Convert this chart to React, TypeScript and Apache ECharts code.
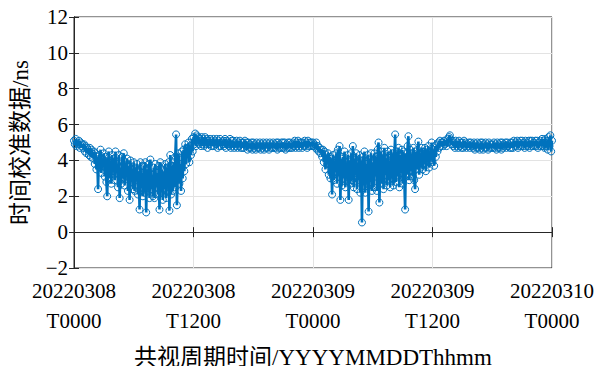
import React, { useEffect, useRef } from "react";
import * as echarts from "echarts";

// sampling: one value every 5 minutes, 20220308T0000 .. 20220310T0000 (hours 0..48)
const stepHours = 5 / 60;

const seg1: number[] = [
  // h0-h11
  5.1, 4.9, 5.2, 4.8, 5.0, 4.9, 5.1, 4.7, 5.0, 4.8, 4.9, 4.7,
  4.9, 4.5, 4.8, 4.4, 4.7, 4.6, 4.3, 4.7, 4.2, 4.6, 4.4, 4.1,
  4.5, 3.8, 4.4, 3.5, 4.2, 2.4, 4.3, 3.6, 4.6, 3.3, 4.1, 3.7,
  4.4, 3.1, 4.2, 2.8, 2.0, 3.9, 4.5, 3.0, 4.0, 2.7, 4.3, 3.4,
  4.1, 2.9, 4.5, 3.3, 3.8, 2.5, 4.3, 1.9, 3.6, 2.7, 4.2, 3.0,
  4.4, 2.6, 3.9, 3.1, 4.1, 2.3, 3.7, 1.8, 4.0, 2.8, 3.5, 2.4,
  3.9, 2.3, 3.6, 2.9, 3.8, 2.1, 3.4, 1.26, 3.9, 2.5, 3.3, 2.0,
  3.7, 2.2, 3.9, 1.1, 3.5, 2.6, 3.8, 1.9, 4.05, 2.4, 3.2, 2.0,
  3.6, 1.9, 3.8, 2.5, 3.3, 2.1, 3.7, 1.26, 3.9, 2.2, 3.5, 1.8,
  3.4, 2.4, 3.8, 1.9, 3.6, 2.6, 3.9, 1.2, 4.3, 2.1, 3.7, 2.3,
  3.9, 2.5, 4.2, 5.45, 1.5, 3.1, 4.4, 2.7, 3.8, 2.3, 4.5, 3.0,
  4.6, 3.4, 4.9, 3.8, 4.7, 4.1, 5.0, 3.9, 4.8, 4.3, 5.2, 4.5,
];
const seg2: number[] = [
  // h12-h23
  5.3, 4.9, 5.5, 4.8, 5.4, 5.0, 5.3, 4.9, 5.2, 4.8, 5.3, 4.9,
  5.2, 4.8, 5.3, 4.9, 5.2, 4.7, 5.1, 4.9, 5.2, 4.8, 5.1, 4.8,
  5.2, 4.8, 5.1, 4.9, 5.2, 4.7, 5.1, 4.8, 5.2, 4.8, 5.0, 4.9,
  5.1, 4.8, 5.2, 4.7, 5.1, 4.9, 5.0, 4.8, 5.2, 4.7, 5.1, 4.8,
  5.1, 4.7, 5.0, 4.8, 5.1, 4.7, 5.0, 4.8, 5.1, 4.7, 5.0, 4.7,
  5.0, 4.7, 5.1, 4.8, 5.0, 4.6, 5.0, 4.7, 4.9, 4.7, 5.0, 4.6,
  5.0, 4.7, 4.9, 4.6, 5.0, 4.7, 4.9, 4.7, 5.0, 4.6, 4.9, 4.7,
  5.0, 4.6, 4.9, 4.7, 5.0, 4.7, 4.9, 4.6, 5.0, 4.7, 4.9, 4.7,
  5.0, 4.7, 4.9, 4.7, 5.0, 4.6, 5.0, 4.7, 4.9, 4.7, 5.0, 4.7,
  5.0, 4.7, 5.0, 4.6, 4.9, 4.7, 5.0, 4.7, 5.0, 4.7, 4.9, 4.7,
  5.0, 4.8, 5.1, 4.7, 5.0, 4.8, 5.1, 4.7, 5.0, 4.8, 5.0, 4.7,
  5.0, 4.8, 5.1, 4.8, 5.0, 4.7, 5.1, 4.8, 5.0, 4.8, 5.0, 4.8,
];
const seg3: number[] = [
  // h24-h36
  5.0, 4.8, 4.9, 4.7, 5.0, 4.6, 4.8, 4.5, 4.7, 4.4, 4.6, 4.2,
  4.6, 3.9, 4.5, 3.5, 4.3, 3.8, 4.4, 3.2, 4.2, 3.0, 4.1, 2.1,
  4.3, 2.9, 4.0, 3.4, 4.4, 2.7, 4.6, 3.1, 4.8, 1.8, 4.1, 2.6,
  4.2, 3.0, 4.5, 2.5, 3.9, 3.2, 4.3, 1.8, 4.0, 2.7, 4.4, 2.9,
  4.8, 2.5, 4.1, 3.3, 4.4, 2.4, 3.9, 2.9, 4.3, 2.2, 4.0, 0.54,
  4.2, 2.6, 4.5, 2.2, 3.8, 3.0, 4.3, 1.15, 4.1, 2.8, 4.4, 2.3,
  3.9, 2.5, 4.4, 3.1, 4.2, 2.3, 4.6, 5.0, 1.65, 3.4, 4.5, 2.7,
  4.3, 2.4, 4.7, 3.2, 4.1, 2.6, 4.5, 2.9, 4.0, 2.5, 4.6, 3.0,
  4.4, 2.6, 4.2, 5.45, 2.8, 4.5, 3.1, 4.7, 2.5, 4.3, 3.3, 4.6,
  2.7, 4.5, 3.0, 1.26, 4.4, 3.2, 4.8, 5.35, 2.9, 4.6, 3.4, 4.4,
  3.1, 4.7, 2.9, 2.4, 4.5, 3.5, 4.6, 5.05, 3.2, 4.4, 3.6, 4.7,
  3.5, 4.5, 3.8, 4.7, 3.4, 4.6, 3.9, 4.8, 3.6, 4.5, 4.0, 5.0,
  3.9, 4.6, 3.7, 4.8, 4.2, 4.9, 4.5, 5.0, 4.7, 5.1, 4.8, 5.0,
];
const seg4: number[] = [
  // h37-h48
  5.0, 4.8, 5.1, 4.9, 5.0, 4.8, 5.2, 5.0, 5.3, 5.4, 5.1, 4.9,
  5.1, 4.8, 5.0, 4.7, 5.1, 4.8, 5.0, 4.7, 5.1, 4.8, 5.0, 4.7,
  5.0, 4.7, 5.1, 4.8, 5.0, 4.7, 4.9, 4.8, 5.0, 4.7, 5.0, 4.8,
  4.9, 4.7, 5.0, 4.6, 4.9, 4.7, 5.0, 4.7, 4.9, 4.6, 5.0, 4.7,
  5.0, 4.6, 4.9, 4.7, 5.0, 4.7, 4.9, 4.6, 5.0, 4.7, 4.9, 4.7,
  4.9, 4.7, 5.0, 4.7, 4.9, 4.6, 5.0, 4.7, 4.9, 4.7, 5.0, 4.6,
  5.0, 4.7, 4.9, 4.8, 5.0, 4.7, 5.0, 4.8, 4.9, 4.7, 5.0, 4.7,
  5.0, 4.7, 5.1, 4.8, 5.0, 4.8, 5.1, 4.7, 5.0, 4.8, 5.1, 4.8,
  5.1, 4.8, 5.0, 4.7, 5.1, 4.8, 5.0, 4.8, 5.1, 4.7, 5.1, 4.8,
  5.1, 4.8, 5.0, 4.8, 5.1, 4.8, 5.1, 4.7, 5.0, 4.8, 5.1, 4.8,
  5.2, 4.8, 5.1, 4.7, 5.2, 4.8, 5.1, 4.6, 5.3, 4.8, 5.4, 4.5,
  5.1,
];

const xTickLabels = [
  "20220308\nT0000",
  "20220308\nT1200",
  "20220309\nT0000",
  "20220309\nT1200",
  "20220310\nT0000",
];
const yTitle = "时间校准数据/ns";
const xTitle = "共视周期时间/YYYYMMDDThhmm";

const values = [...seg1, ...seg2, ...seg3, ...seg4];
const points = values.map((v, i) => [i * stepHours, v]);

const FONT = "Liberation Serif, Times New Roman, Noto Sans CJK SC, serif";

export default function App() {
  const ref = useRef<HTMLDivElement>(null);
  useEffect(() => {
    if (!ref.current) return;
    const chart = echarts.init(ref.current, undefined, { renderer: "svg" });
    const axisLine = { show: true, lineStyle: { color: "#262626", width: 1 } };
    const tick = { show: true, inside: true, length: 5, lineStyle: { color: "#262626" } };
    chart.setOption({
      animation: false,
      backgroundColor: "#ffffff",
      textStyle: { fontFamily: FONT },
      grid: {
        left: 74,
        right: 51,
        top: 17,
        bottom: 106,
        show: true,
        borderColor: "#262626",
        borderWidth: 1,
        backgroundColor: "transparent",
      },
      xAxis: [
        {
          type: "value",
          min: 0,
          max: 48,
          interval: 12,
          axisLine,
          axisTick: tick,
          splitLine: { show: true, lineStyle: { color: "#e3e3e3", width: 1 } },
          axisLabel: {
            formatter: (v: number) => xTickLabels[Math.round(v / 12)] ?? "",
            fontFamily: FONT,
            fontSize: 21,
            color: "#000",
            lineHeight: 30,
            margin: 8,
          },
          name: xTitle,
          nameLocation: "middle",
          nameGap: 78,
          nameTextStyle: { fontFamily: FONT, fontSize: 23, color: "#000" },
        },
        {
          type: "value",
          position: "top",
          min: 0,
          max: 48,
          interval: 12,
          axisLine,
          axisTick: tick,
          splitLine: { show: false },
          axisLabel: { show: false },
        },
      ],
      yAxis: [
        {
          type: "value",
          min: -2,
          max: 12,
          interval: 2,
          axisLine,
          axisTick: tick,
          splitLine: { show: true, lineStyle: { color: "#e3e3e3", width: 1 } },
          axisLabel: {
            formatter: (v: number) => (v < 0 ? "\u2212" + Math.abs(v) : String(v)),
            fontFamily: FONT,
            fontSize: 21,
            color: "#000",
            margin: 6,
          },
          name: yTitle,
          nameLocation: "middle",
          nameGap: 42,
          nameRotate: 90,
          nameTextStyle: { fontFamily: FONT, fontSize: 23, color: "#000" },
        },
        {
          type: "value",
          position: "right",
          min: -2,
          max: 12,
          interval: 2,
          axisLine,
          axisTick: tick,
          splitLine: { show: false },
          axisLabel: { show: false },
        },
      ],
      series: [
        {
          type: "line",
          data: points,
          xAxisIndex: 0,
          yAxisIndex: 0,
          symbol: "circle",
          symbolSize: 7,
          showSymbol: true,
          showAllSymbol: true,
          lineStyle: { color: "#0072BD", width: 2.6 },
          itemStyle: { color: "transparent", borderColor: "#0072BD", borderWidth: 1 },
          emphasis: { disabled: true },
        },
      ],
    });
    return () => chart.dispose();
  }, []);
  return <div ref={ref} style={{ width: 603, height: 374, margin: -8 }} />;
}
